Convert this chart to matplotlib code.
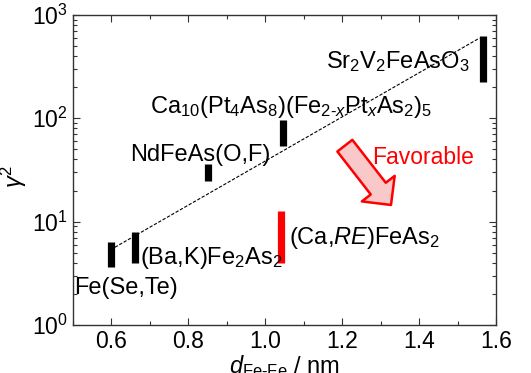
import matplotlib
matplotlib.use('Agg')
import matplotlib.pyplot as plt
from matplotlib.ticker import MultipleLocator, LogLocator, NullFormatter

plt.rcParams['font.family'] = ['Liberation Sans', 'DejaVu Sans']
plt.rcParams['mathtext.fontset'] = 'custom'
plt.rcParams['mathtext.rm'] = 'Liberation Sans'
plt.rcParams['mathtext.it'] = 'Liberation Sans:italic'
plt.rcParams['mathtext.bf'] = 'Liberation Sans:bold'

# range bars: d(Fe-Fe) in nm, gamma^2 low/high
d_fefe = [0.60, 0.66, 0.85, 1.045, 1.04, 1.566]
gamma2_low = [3.6, 4.0, 24.5, 54.5, 4.0, 222]
gamma2_high = [6.3, 7.9, 36, 96, 12.7, 628]
bar_colors = ['black', 'black', 'black', 'black', 'red', 'black']

# guide line
fit_x = [0.609, 1.557]
fit_y = [5.65, 596]

labels = ['Fe(Se,Te)', '(Ba,K)Fe$_2$As$_2$', 'NdFeAs(O,F)',
          'Ca$_{10}$(Pt$_4$As$_8$)(Fe$_{2\\text{-}x}$Pt$_x$As$_2$)$_5$',
          '(Ca,$RE$)FeAs$_2$', 'Sr$_2$V$_2$FeAsO$_3$']
label_x = [0.503, 0.674, 0.648, 0.700, 1.063, 1.532]
label_y = [2.28, 4.45, 44, 130, 6.95, 351]
label_ha = ['left', 'left', 'left', 'left', 'left', 'right']

fig = plt.figure(figsize=(5.31, 3.73), dpi=100)
ax = fig.add_axes([0.1375, 0.1287, 0.7965, 0.8313])

ax.plot(fit_x, fit_y, color='black', lw=0.8, ls=(0, (3, 1.5)), zorder=2)
ax.vlines(d_fefe, gamma2_low, gamma2_high, colors=bar_colors, lw=5.2, zorder=3)

for t, x, y, ha in zip(labels, label_x, label_y, label_ha):
    ax.text(x, y, t, fontsize=17, ha=ha, va='center', zorder=4)

# "Favorable" arrow
ax.annotate('', xy=(1.327, 14.5), xytext=(1.207, 54.3),
            arrowprops=dict(arrowstyle='simple,head_length=14.9,head_width=30,tail_width=13.7',
                            mutation_scale=1, fc='#f9c8c8', ec='red', lw=1.8,
                            shrinkA=0, shrinkB=0))
ax.text(1.279, 41.4, 'Favorable', color='red', fontsize=16.5, ha='left', va='center')

ax.set_yscale('log')
ax.set_xlim(0.5, 1.6)
ax.set_ylim(1, 1000)
ax.xaxis.set_major_locator(MultipleLocator(0.2))
ax.xaxis.set_minor_locator(MultipleLocator(0.1))
ax.xaxis.set_major_formatter(matplotlib.ticker.FormatStrFormatter('%.1f'))
ax.yaxis.set_major_locator(LogLocator(base=10, numticks=10))
ax.yaxis.set_minor_locator(LogLocator(base=10, subs=range(2, 10), numticks=10))
ax.yaxis.set_minor_formatter(NullFormatter())
ax.tick_params(which='both', direction='in', top=True, right=True, labelsize=16.5,
               color='#333333')
ax.tick_params(which='major', length=5, width=0.8)
ax.tick_params(which='minor', length=3, width=0.8)
for s in ax.spines.values():
    s.set_color('#333333')
    s.set_linewidth(1.0)

ax.set_xlabel('$d_{\\mathrm{Fe\\text{-}Fe}}$ / nm', fontsize=17, labelpad=0)
ax.set_ylabel('$\\gamma^2$', fontsize=17)
ax.yaxis.set_label_coords(-0.105, 0.48)

fig.savefig('out.png', dpi=100)
